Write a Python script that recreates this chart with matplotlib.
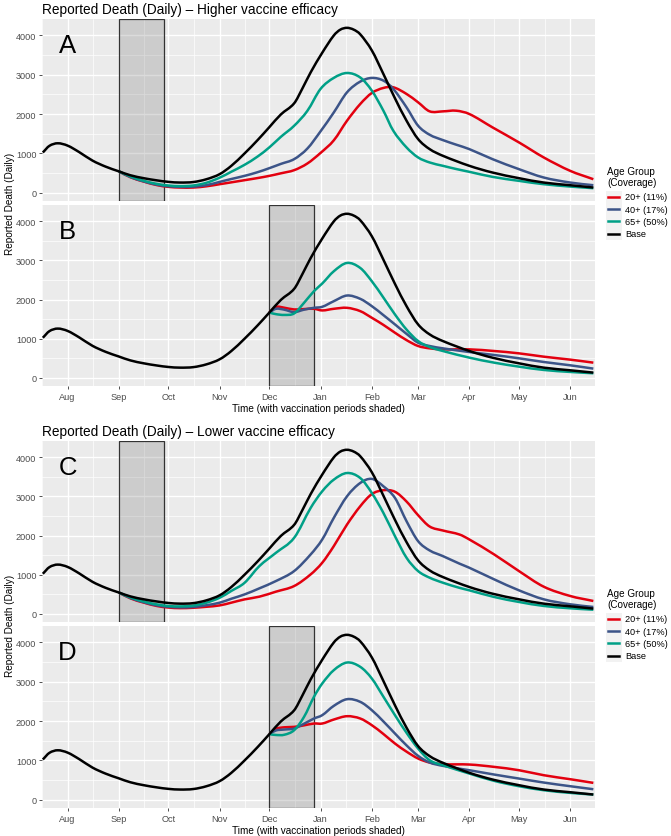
import numpy as np
import pandas as pd
import matplotlib
matplotlib.use('Agg')
import matplotlib.pyplot as plt
import matplotlib.dates as mdates
from matplotlib.lines import Line2D
from matplotlib.patches import Rectangle, PathPatch
from matplotlib.path import Path

plt.rcParams['font.family'] = ['Liberation Sans', 'DejaVu Sans']

# ---- data ----
# dates written as MM-DD; Jul-Dec = 2020, Jan-Jun = 2021
base_dates = ['07-17', '07-21', '07-26', '08-01', '08-08', '08-16', '08-24', '09-01', '09-08', '09-16',
              '09-24', '10-01', '10-08', '10-16', '10-24', '11-01', '11-08', '11-16', '11-24', '12-01',
              '12-08', '12-16', '12-21', '12-26', '01-02', '01-09', '01-13', '01-17', '01-21', '01-25',
              '02-01', '02-08', '02-15', '02-22', '03-01', '03-08', '03-16', '04-01', '04-15', '05-01',
              '05-16', '06-01', '06-15']
base_vals = [1020, 1190, 1255, 1195, 1030, 815, 660, 540, 440, 366,
             310, 272, 255, 268, 340, 470, 680, 995, 1340, 1665,
             1990, 2272, 2650, 3060, 3560, 4000, 4150, 4195, 4150, 4030,
             3620, 3020, 2400, 1830, 1362, 1106, 936, 681, 510, 366,
             255, 187, 128]

# Panel A: higher efficacy, vaccination in September
a_dates = ['09-01', '09-08', '09-16', '09-24', '10-01', '10-08', '10-16', '10-24', '11-01', '11-08',
           '11-16', '11-24', '12-01', '12-08', '12-16', '12-24', '01-01', '01-09', '01-17', '01-25',
           '02-01', '02-08', '02-14', '02-22', '03-01', '03-08', '03-16', '03-24', '04-01', '04-15',
           '05-01', '05-16', '06-01', '06-15']
a_20 = [540, 390, 280, 190, 145, 128, 128, 160, 213, 260,
        315, 370, 425, 490, 570, 740, 1010, 1330, 1830, 2255,
        2536, 2664, 2681, 2511, 2298, 2068, 2068, 2085, 2000, 1660,
        1277, 894, 553, 340]
a_40 = [540, 395, 285, 200, 160, 145, 150, 190, 272, 345,
        425, 520, 621, 730, 851, 1120, 1560, 2040, 2553, 2826,
        2919, 2851, 2638, 2170, 1702, 1472, 1336, 1220, 1106, 851,
        596, 383, 255, 187]
a_65 = [540, 410, 300, 220, 180, 165, 180, 250, 380, 530,
        706, 920, 1150, 1420, 1700, 2080, 2640, 2920, 3045, 2930,
        2596, 2085, 1574, 1149, 894, 766, 681, 600, 528, 400,
        298, 213, 153, 111]

# Panel B: higher efficacy, vaccination in December
b_dates = ['12-01', '12-05', '12-10', '12-16', '12-22', '12-28', '01-02', '01-09', '01-17', '01-25',
           '02-01', '02-08', '02-15', '02-22', '03-01', '03-08', '03-16', '04-01', '04-16', '05-01',
           '05-16', '06-01', '06-15']
b_20 = [1665, 1810, 1790, 1745, 1755, 1762, 1720, 1762, 1787, 1702,
        1532, 1350, 1149, 960, 809, 749, 723, 723, 681, 621,
        536, 460, 383]
b_40 = [1665, 1762, 1740, 1677, 1740, 1787, 1813, 1957, 2102, 2017,
        1830, 1600, 1362, 1120, 894, 809, 749, 655, 579, 494,
        400, 315, 230]
b_65 = [1665, 1625, 1605, 1643, 1915, 2213, 2409, 2723, 2936, 2808,
        2468, 2050, 1617, 1230, 936, 783, 681, 511, 383, 281,
        196, 145, 111]

# Panel C: lower efficacy, vaccination in September
c_dates = ['09-01', '09-08', '09-16', '09-24', '10-01', '10-08', '10-16', '10-24', '11-01', '11-08',
           '11-16', '11-25', '12-05', '12-16', '12-26', '01-02', '01-09', '01-17', '01-25', '02-01',
           '02-08', '02-15', '02-22', '03-01', '03-08', '03-16', '03-26', '04-01', '04-16', '05-01',
           '05-16', '06-01', '06-15']
c_20 = [540, 390, 282, 195, 155, 140, 150, 175, 210, 280,
        364, 434, 562, 706, 1004, 1302, 1728, 2281, 2749, 3060,
        3160, 3120, 2870, 2520, 2230, 2128, 2026, 1898, 1515, 1089,
        689, 451, 323]
c_40 = [540, 400, 292, 210, 175, 160, 170, 215, 280, 380,
        491, 647, 834, 1089, 1515, 1898, 2451, 3004, 3345, 3450,
        3260, 2962, 2366, 1855, 1617, 1472, 1280, 1174, 877, 596,
        366, 238, 170]
c_65 = [540, 415, 310, 235, 195, 185, 205, 280, 407, 580,
        788, 1217, 1557, 1940, 2706, 3132, 3430, 3600, 3472, 3089,
        2579, 1983, 1430, 1089, 919, 791, 660, 596, 426, 298,
        196, 136, 100]

# Panel D: lower efficacy, vaccination in December
d_dates = b_dates
d_20 = [1665, 1800, 1840, 1851, 1890, 1936, 1936, 2038, 2123, 2064,
        1894, 1670, 1427, 1220, 1045, 943, 900, 892, 832, 747,
        620, 518, 425]
d_40 = [1665, 1760, 1783, 1809, 1930, 2064, 2149, 2386, 2556, 2488,
        2276, 1990, 1682, 1380, 1113, 943, 858, 747, 637, 535,
        433, 340, 263]
d_65 = [1665, 1645, 1650, 1766, 2106, 2616, 2955, 3295, 3490, 3380,
        3083, 2620, 2149, 1700, 1299, 1002, 875, 662, 476, 340,
        238, 170, 127]

group_labels = ['20+ (11%)', '40+ (17%)', '65+ (50%)', 'Base']
group_colors = ['#E3000F', '#3C5488', '#00A087', '#000000']

sep_period = ('09-01', '09-28')
dec_period = ('12-01', '12-28')


def to_dt(mmdd):
    year = 2020 if int(mmdd[:2]) >= 7 else 2021
    return pd.Timestamp(f'{year}-{mmdd}')


def dts(lst):
    return pd.to_datetime([to_dt(d) for d in lst])


W, H = 671, 837
fig = plt.figure(figsize=(W / 100, H / 100), dpi=100)


def fx(px):
    return px / W


def fy(py):
    return 1 - py / H


months = pd.date_range('2020-07-01', '2021-07-01', freq='MS')
mids = months[:-1] + (months[1:] - months[:-1]) / 2
xmin, xmax = pd.Timestamp('2020-07-17'), pd.Timestamp('2021-06-15 12:00')


def smooth_line(ax, dates, vals, color, z):
    # cubic Hermite path through the read points (drawn, not resampled)
    x = mdates.date2num(dts(dates))
    y = np.asarray(vals, dtype=float)
    n = len(x)
    m = np.empty(n)
    m[1:-1] = (y[2:] - y[:-2]) / (x[2:] - x[:-2])
    m[0] = (y[1] - y[0]) / (x[1] - x[0])
    m[-1] = (y[-1] - y[-2]) / (x[-1] - x[-2])
    verts = [(x[0], y[0])]
    codes = [Path.MOVETO]
    for i in range(n - 1):
        h = x[i + 1] - x[i]
        verts += [(x[i] + h / 3, y[i] + m[i] * h / 3),
                  (x[i + 1] - h / 3, y[i + 1] - m[i + 1] * h / 3),
                  (x[i + 1], y[i + 1])]
        codes += [Path.CURVE4] * 3
    ax.add_patch(PathPatch(Path(verts, codes), fill=False, edgecolor=color, lw=1.8,
                           zorder=z, capstyle='butt', joinstyle='round'))


def draw_panel(top, bottom, period, dates, s20, s40, s65, letter, show_x):
    ax = fig.add_axes([fx(42), fy(bottom), fx(553), (bottom - top) / H])
    ax.set_facecolor('#EBEBEB')
    for s in ax.spines.values():
        s.set_visible(False)
    ax.xaxis_date()
    ax.set_xlim(xmin, xmax)
    ax.set_ylim(-215, 4420)
    ax.set_yticks([0, 1000, 2000, 3000, 4000])
    ax.set_yticks([500, 1500, 2500, 3500], minor=True)
    ax.set_xticks(months[1:-1])
    ax.set_xticks(mids, minor=True)
    ax.xaxis.set_major_formatter(mdates.DateFormatter('%b'))
    ax.grid(which='major', color='white', lw=1.0)
    ax.grid(which='minor', color='white', lw=0.5)
    ax.set_axisbelow(True)
    ax.tick_params(which='minor', length=0)
    ax.tick_params(which='major', length=2.5, width=0.6, color='#333333',
                   labelsize=6.6, labelcolor='#4D4D4D', pad=1.5)
    if not show_x:
        ax.tick_params(axis='x', which='both', length=0, labelbottom=False)

    p0, p1 = to_dt(period[0]), to_dt(period[1])
    ax.axvspan(p0, p1, facecolor='#7F7F7F', alpha=0.28, edgecolor='none', zorder=1)
    ax.axvspan(p0, p1, facecolor='none', edgecolor='#333333', lw=0.9, zorder=1.1)

    for vals, col in zip([s20, s40, s65], group_colors[:3]):
        smooth_line(ax, dates, vals, col, 2)
    smooth_line(ax, base_dates, base_vals, 'black', 3)

    ax.text(pd.Timestamp('2020-08-01'), 3760, letter, fontsize=18.5,
            ha='center', va='center', color='black')
    if show_x:
        ax.set_xlabel('Time (with vaccination periods shaded)', fontsize=7.2, labelpad=2)
    return ax


def draw_legend(top):
    fig.text(fx(607), fy(top), 'Age Group', fontsize=7.1, va='center', ha='left')
    fig.text(fx(607), fy(top + 11), '(Coverage)', fontsize=7.1, va='center', ha='left')
    for i, (lab, col) in enumerate(zip(group_labels, group_colors)):
        y = top + 26 + i * 12.2
        fig.add_artist(Rectangle((fx(606), fy(y + 6)), 16 / W, 12.2 / H,
                                 facecolor='#F2F2F2', edgecolor='none', transform=fig.transFigure))
        fig.add_artist(Line2D([fx(608), fx(619)], [fy(y), fy(y)], color=col, lw=1.8,
                              transform=fig.transFigure))
        fig.text(fx(625), fy(y), lab, fontsize=6.6, va='center', ha='left')


draw_panel(20, 202, sep_period, a_dates, a_20, a_40, a_65, 'A', False)
draw_panel(206, 387, dec_period, b_dates, b_20, b_40, b_65, 'B', True)
draw_panel(442, 623, sep_period, c_dates, c_20, c_40, c_65, 'C', False)
draw_panel(627, 809, dec_period, d_dates, d_20, d_40, d_65, 'D', True)

fig.text(fx(42), fy(10), 'Reported Death (Daily) \u2013 Higher vaccine efficacy', fontsize=9.8,
         va='center', ha='left')
fig.text(fx(42), fy(432), 'Reported Death (Daily) \u2013 Lower vaccine efficacy', fontsize=9.8,
         va='center', ha='left')
fig.text(fx(10), fy(203.5), 'Reported Death (Daily)', fontsize=7.2, rotation=90, va='center', ha='center')
fig.text(fx(10), fy(625.5), 'Reported Death (Daily)', fontsize=7.2, rotation=90, va='center', ha='center')

draw_legend(172)
draw_legend(594)

fig.savefig('out.png', dpi=100)
